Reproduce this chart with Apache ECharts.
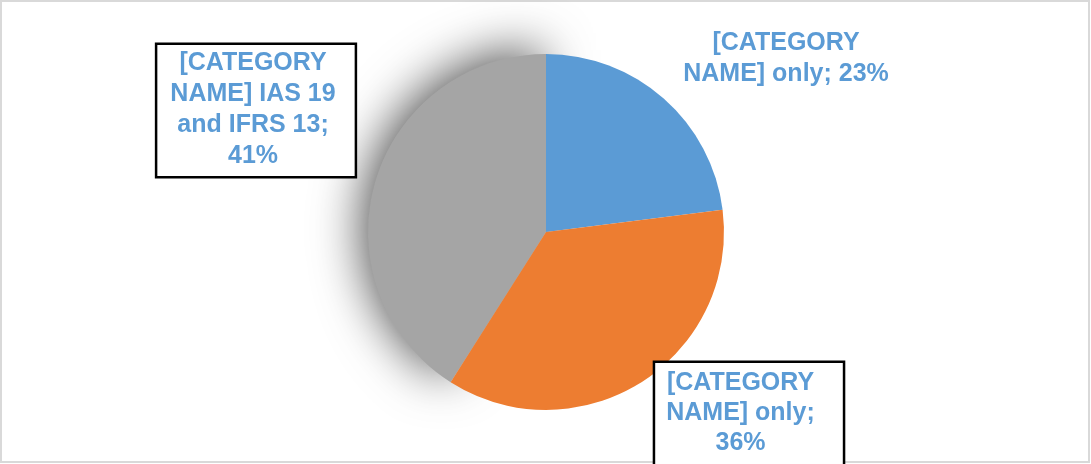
<!DOCTYPE html>
<html>
<head>
<meta charset="utf-8">
<script src="https://cdn.jsdelivr.net/npm/echarts@6/dist/echarts.min.js"></script>
<style>
html,body{margin:0;padding:0;background:#fff;}
#chart{width:1091px;height:464px;}
</style>
</head>
<body>
<div id="chart"></div>
<script>
// Slices listed in drawing order: the grey slice first so its shadow sits beneath the others.
const categories = ['[CATEGORY NAME] IAS 19 and IFRS 13', '[CATEGORY NAME] only', '[CATEGORY NAME] only'];
const values = [41, 23, 36];
const labelLines = [
  ['[CATEGORY', 'NAME] IAS 19', 'and IFRS 13;', '41%'],
  ['[CATEGORY', 'NAME] only; 23%'],
  ['[CATEGORY', 'NAME] only;', '36%']
];
const colors = ['#A5A5A5', '#5B9BD5', '#ED7D31'];

const chart = echarts.init(document.getElementById('chart'));

const labelBoxes = [
  { x: 256, y: 45, lh: 31, border: 2.5, padding: [3, 19, 4, 13], shadow: true },
  { x: 786, y: 28, lh: 31, border: 0, padding: [0, 0, 0, 0] },
  { x: 749, y: 363, lh: 30, border: 2.5, padding: [5, 28, 10, 11] }
];

const total = values.reduce((a, b) => a + b, 0);
// grey slice ends at 12 o'clock going clockwise
const startAngle = 90 + values[0] / total * 360;

const data = values.map((v, i) => {
  const b = labelBoxes[i];
  const item = {
    name: categories[i],
    value: v,
    itemStyle: { color: colors[i] },
    label: {
      lineHeight: b.lh,
      padding: b.padding,
      borderWidth: b.border,
      borderColor: '#000',
      backgroundColor: b.border ? '#fff' : 'transparent'
    }
  };
  if (b.shadow) {
    item.itemStyle.shadowBlur = 50;
    item.itemStyle.shadowColor = 'rgba(0,0,0,0.7)';
    item.itemStyle.shadowOffsetX = -5;
    item.itemStyle.shadowOffsetY = -4;
  }
  return item;
});

chart.setOption({
  animation: false,
  graphic: [{
    type: 'rect',
    shape: { x: 1, y: 1, width: 1088, height: 461 },
    style: { fill: 'none', stroke: '#d9d9d9', lineWidth: 2 },
    silent: true,
    z: -10
  }],
  series: [{
    type: 'pie',
    center: [546, 232],
    radius: 178,
    startAngle: startAngle,
    clockwise: true,
    data: data,
    label: {
      show: true,
      position: 'outside',
      formatter: (p) => labelLines[p.dataIndex].join('\n'),
      color: '#5B9BD5',
      fontWeight: 'bold',
      fontSize: 25,
      fontFamily: 'Arial',
      align: 'center'
    },
    labelLine: { show: false },
    labelLayout: (params) => {
      const b = labelBoxes[params.dataIndex];
      return { x: b.x, y: b.y, align: 'center', verticalAlign: 'top', hideOverlap: false };
    },
    emphasis: { disabled: true }
  }]
});
</script>
</body>
</html>
